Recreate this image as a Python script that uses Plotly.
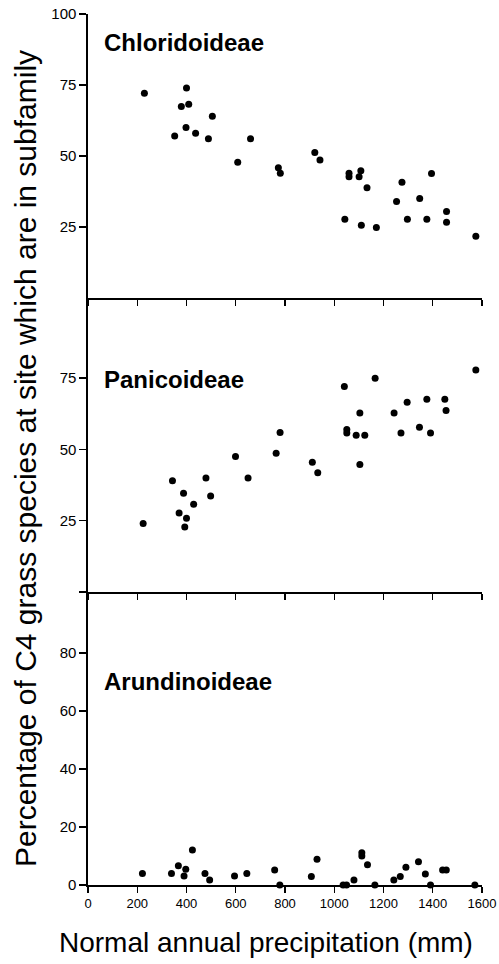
import plotly.graph_objects as go

# Chloridoideae (top panel)
chl_x = [229, 400, 379, 409, 505, 352, 398, 437, 489, 660, 608, 773, 781, 921, 942,
         1060, 1060, 1108, 1101, 1133, 1043, 1110, 1171, 1275, 1253, 1297, 1347, 1395,
         1376, 1456, 1456, 1575]
chl_y = [72.1, 73.9, 67.4, 68.2, 64.0, 57.0, 60.0, 58.0, 56.1, 56.1, 47.8, 45.9, 43.9,
         51.2, 48.6, 43.9, 42.7, 44.8, 42.7, 38.8, 27.7, 25.6, 24.8, 40.8, 34.0, 27.7,
         35.0, 43.8, 27.7, 30.5, 26.7, 21.7]

# Panicoideae (middle panel)
pan_x = [224, 343, 388, 370, 400, 393, 429, 479, 498, 599, 650, 764, 780, 911, 933,
         1041, 1051, 1051, 1089, 1124, 1104, 1104, 1166, 1243, 1271, 1296, 1346, 1376,
         1391, 1449, 1454, 1575]
pan_y = [24.0, 39.0, 34.6, 27.7, 25.8, 22.8, 30.7, 39.9, 33.6, 47.5, 39.9, 48.6, 55.9,
         45.5, 41.8, 72.0, 56.9, 55.7, 54.9, 54.9, 62.7, 44.7, 74.9, 62.7, 55.7, 66.5,
         57.7, 67.5, 55.7, 67.5, 63.6, 77.8]

# Arundinoideae (bottom panel)
aru_x = [221, 339, 367, 397, 390, 424, 475, 494, 595, 645, 758, 779, 907, 930,
         1036, 1050, 1080, 1112, 1112, 1135, 1165, 1242, 1268, 1291, 1342, 1370,
         1391, 1440, 1455, 1571]
aru_y = [4.0, 4.0, 6.6, 5.4, 3.1, 12.1, 4.0, 1.7, 3.1, 4.0, 5.2, 0.0, 2.9, 8.9,
         0.0, 0.0, 1.7, 11.1, 10.0, 7.0, 0.0, 1.7, 2.9, 6.1, 8.0, 3.8,
         0.0, 5.2, 5.2, 0.0]

panel_names = ["Chloridoideae", "Panicoideae", "Arundinoideae"]
x_ticks = [0, 200, 400, 600, 800, 1000, 1200, 1400, 1600]
top_ticks = [25, 50, 75, 100]
mid_ticks = [0, 25, 50, 75]
mid_ticktext = ["", "25", "50", "75"]
bot_ticks = [0, 20, 40, 60, 80]

x_title = "Normal annual precipitation (mm)"
y_title = "Percentage of C4 grass species at site which are in subfamily"

FONT = "Liberation Sans, Arial, Helvetica, sans-serif"

fig = go.Figure()
marker = dict(color="black", size=7)
fig.add_trace(go.Scatter(x=chl_x, y=chl_y, mode="markers", marker=marker,
                         xaxis="x", yaxis="y", cliponaxis=False, showlegend=False))
fig.add_trace(go.Scatter(x=pan_x, y=pan_y, mode="markers", marker=marker,
                         xaxis="x2", yaxis="y2", cliponaxis=False, showlegend=False))
fig.add_trace(go.Scatter(x=aru_x, y=aru_y, mode="markers", marker=marker,
                         xaxis="x3", yaxis="y3", cliponaxis=False, showlegend=False))

def xax(labels, anchor):
    return dict(range=[0, 1600], domain=[0, 1], anchor=anchor, showline=True,
                linecolor="black", linewidth=1.6, ticks="outside", ticklen=6,
                tickwidth=1.4, tickcolor="black", tickvals=x_ticks,
                showticklabels=labels, showgrid=False, zeroline=False,
                automargin=False,
                tickfont=dict(family=FONT, size=13, color="black"))

def yax(rng, dom, tv, tt, anchor):
    return dict(range=rng, domain=dom, anchor=anchor, showline=True,
                linecolor="black", linewidth=1.6, ticks="outside", ticklen=7,
                tickwidth=1.4, tickcolor="black", tickvals=tv, ticktext=tt,
                showgrid=False, zeroline=False, automargin=False,
                tickfont=dict(family=FONT, size=15, color="black"))

H = 871.0
W = 394.0
def dom(top_px, bot_px):
    return [(885 - bot_px) / H, (885 - top_px) / H]

fig.update_layout(
    width=499, height=964,
    margin=dict(l=88, r=17, t=14, b=79, autoexpand=False),
    paper_bgcolor="white", plot_bgcolor="white",
    xaxis=xax(False, "y"),
    xaxis2=xax(False, "y2"),
    xaxis3=xax(True, "y3"),
    yaxis=yax([0, 100], dom(14, 298), top_ticks, [str(v) for v in top_ticks], "x"),
    yaxis2=yax([0, 103], dom(298, 592), mid_ticks, mid_ticktext, "x2"),
    yaxis3=yax([0, 101], dom(592, 885), bot_ticks, [str(v) for v in bot_ticks], "x3"),
)

label_pos = [("x", "y", 90), ("x2", "y2", 74.3), ("x3", "y3", 70.1)]
for name, (xr, yr, yv) in zip(panel_names, label_pos):
    fig.add_annotation(text="<b>" + name + "</b>", x=58, y=yv, xref=xr, yref=yr,
                       xanchor="left", yanchor="middle", showarrow=False,
                       font=dict(family=FONT, size=24, color="black"))

fig.add_annotation(text=x_title, x=(266 - 88) / W, y=(885 - 942) / H,
                   xref="paper", yref="paper", xanchor="center", yanchor="middle",
                   showarrow=False, font=dict(family=FONT, size=28, color="black"))
fig.add_annotation(text=y_title, x=(26 - 88) / W, y=(885 - 459) / H,
                   xref="paper", yref="paper", xanchor="center", yanchor="middle",
                   textangle=-90, showarrow=False,
                   font=dict(family=FONT, size=30, color="black"))

fig.write_html("out.html",
               config={"displayModeBar": False, "staticPlot": True},
               post_script="document.body.style.margin='0px';"
                           "document.body.style.overflow='hidden';")
